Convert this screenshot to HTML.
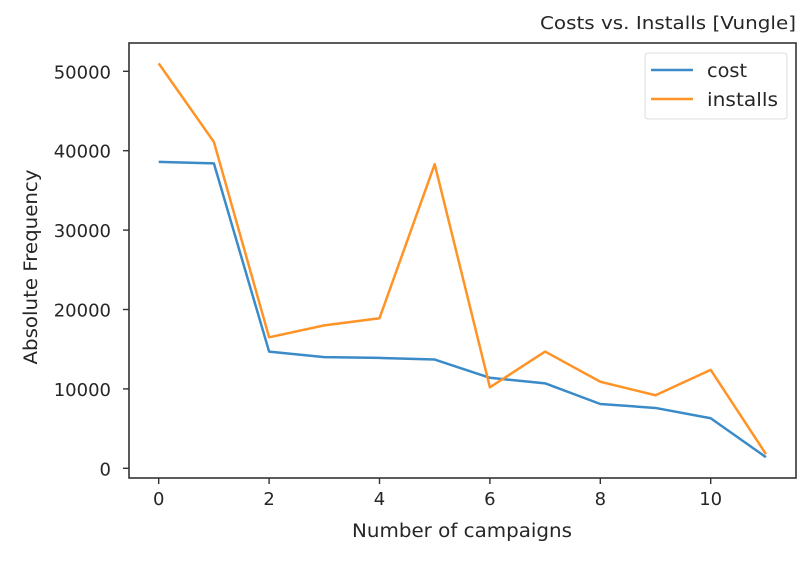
<!DOCTYPE html>
<html><head><meta charset="utf-8"><style>
body{margin:0;background:#fff;}
svg text{font-family:"DejaVu Sans","Liberation Sans",sans-serif;fill:#262626;}
</style></head><body>
<svg id="chart" width="808" height="560">
<rect x="0" y="0" width="808" height="560" fill="#fff"/>
<g id="ticks"></g>
<g id="lines"></g>
<rect x="129" y="43" width="667" height="435" fill="none" stroke="#333" stroke-width="1.6"/>
<text x="796" y="29" text-anchor="end" font-size="17.5" textLength="256" lengthAdjust="spacingAndGlyphs">Costs vs. Installs [Vungle]</text>
<text x="462" y="537" text-anchor="middle" font-size="18.5" textLength="220" lengthAdjust="spacingAndGlyphs">Number of campaigns</text>
<text transform="translate(37,267) rotate(-90)" text-anchor="middle" font-size="18.5" textLength="195" lengthAdjust="spacingAndGlyphs">Absolute Frequency</text>
<g>
<rect x="645" y="53" width="142" height="66" rx="3" fill="#fff" stroke="#ddd" stroke-width="1"/>
<g><line x1="651" y1="70" x2="693" y2="70" stroke="#3a8bc8" stroke-width="2.5"/><text x="707" y="77" font-size="19" textLength="40" lengthAdjust="spacingAndGlyphs">cost</text></g>
<g><line x1="651" y1="99" x2="693" y2="99" stroke="#ff9326" stroke-width="2.5"/><text x="707" y="106" font-size="19" textLength="71" lengthAdjust="spacingAndGlyphs">installs</text></g>
</g>
</svg>
<script>
const categories=[0,1,2,3,4,5,6,7,8,9,10,11];
const costValues=[38600,38400,14700,14000,13900,13700,11400,10700,8100,7600,6300,1400];
const installValues=[51000,41100,16500,18000,18900,38300,10200,14700,10900,9200,12400,1800];
const xTicks=[0,2,4,6,8,10];
const yTicks=[0,10000,20000,30000,40000,50000];
const ns="http://www.w3.org/2000/svg";
const xs=v=>158.7+v*55.2;
const ys=v=>468.3-v*0.00794;
const tg=document.getElementById('ticks'),lg=document.getElementById('lines');
function mk(t,a){const e=document.createElementNS(ns,t);for(const k in a)e.setAttribute(k,a[k]);return e;}
xTicks.forEach(v=>{
 const l=mk('line',{x1:xs(v),x2:xs(v),y1:478,y2:484,stroke:'#333','stroke-width':1.4});
 
 
 tg.appendChild(l);
 const t=mk('text',{x:xs(v),y:505,'text-anchor':'middle','font-size':18});
 
 
 t.textContent=v;tg.appendChild(t);
});
yTicks.forEach(v=>{
 const l=mk('line',{x1:123,x2:129,y1:ys(v),y2:ys(v),stroke:'#333','stroke-width':1.4});
 
 
 tg.appendChild(l);
 const t=mk('text',{x:111,y:ys(v)+7,'text-anchor':'end','font-size':18});
 
 
 t.textContent=v;tg.appendChild(t);
});
function series(vals,color,name){
 const p=mk('polyline',{points:vals.map((v,i)=>xs(categories[i])+','+ys(v)).join(' '),fill:'none',stroke:color,'stroke-width':2.5,'stroke-linejoin':'round'});
 
 
 lg.appendChild(p);
}
series(costValues,'#3a8bc8','cost-line');
series(installValues,'#ff9326','installs-line');
</script>
</body></html>
